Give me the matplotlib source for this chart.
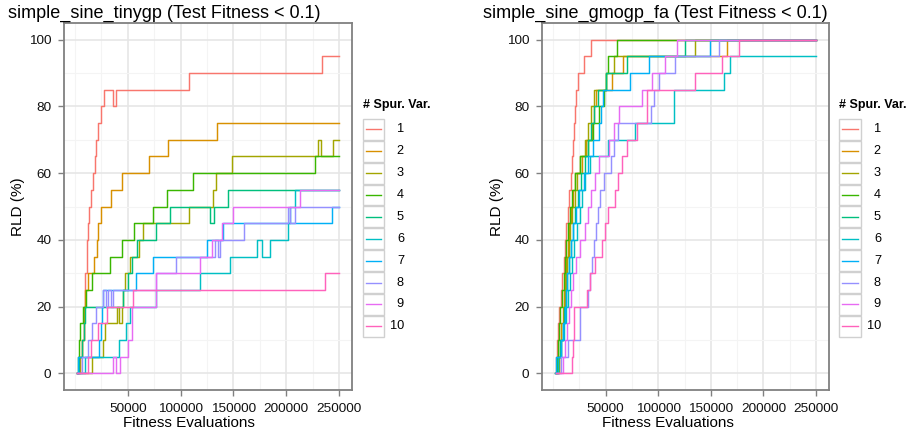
import matplotlib
matplotlib.use("Agg")
import matplotlib.pyplot as plt
from matplotlib.patches import Rectangle
from matplotlib.lines import Line2D

plt.rcParams['font.family'] = ['Liberation Sans', 'DejaVu Sans']

# ggplot hue palette, one colour per number of spurious variables
COLORS = ["#F8766D", "#D89000", "#A3A500", "#39B600", "#00BF7D",
          "#00BFC4", "#00B0F6", "#9590FF", "#E76BF3", "#FF62BC"]
series_labels = [str(i) for i in range(1, 11)]
x_ticks = [50000, 100000, 150000, 200000, 250000]
x_minor = [0, 25000, 75000, 125000, 175000, 225000]
y_ticks = [0, 20, 40, 60, 80, 100]
y_minor = [10, 30, 50, 70, 90]
end_eval = 250000

# ---- simple_sine_tinygp : evaluations where RLD changes / new RLD value ----
tiny_x1 = [2000, 5000, 7000, 8500, 9000, 9500, 11000, 12000, 13500, 15000, 17000, 18500,
           20000, 22000, 25000, 27500, 36000, 38500, 108000, 234000]
tiny_y1 = [0, 5, 10, 20, 25, 30, 40, 45, 50, 55, 60, 65, 70, 75, 80, 85, 80, 85, 90, 95]
tiny_x2 = [2000, 5000, 6500, 8000, 9500, 12000, 18000, 20300, 22000, 25000, 34000, 44600,
           70000, 88300, 134600]
tiny_y2 = [0, 5, 10, 20, 25, 30, 35, 40, 45, 50, 55, 60, 65, 70, 75]
tiny_x3 = [2000, 16500, 26000, 28000, 40000, 42000, 44000, 45500, 47000, 52000, 61000, 64000,
           108000, 131000, 133500, 148300, 230000, 233000, 244700]
tiny_y3 = [0, 5, 10, 15, 20, 15, 20, 25, 30, 35, 40, 45, 50, 55, 60, 65, 70, 65, 70]
tiny_x4 = [2000, 3000, 4000, 5000, 7500, 10000, 16000, 33000, 44000, 55700, 74000, 87200,
           111300, 227000]
tiny_y4 = [0, 5, 10, 15, 20, 25, 30, 35, 40, 45, 50, 55, 60, 65]
tiny_x5 = [2000, 4000, 7000, 8000, 9000, 45000, 50000, 53500, 59000, 77000, 90000, 128000,
           132000, 145000]
tiny_y5 = [0, 5, 10, 15, 20, 25, 30, 35, 40, 45, 50, 45, 50, 55]
tiny_x6 = [2000, 9000, 42000, 48000, 52000, 77000, 118000, 146600, 172000, 177000, 184700,
           201800, 204000, 208000]
tiny_y6 = [0, 5, 10, 15, 20, 25, 30, 35, 40, 35, 40, 45, 50, 55]
tiny_x7 = [2000, 3000, 23000, 25000, 25800, 26500, 58000, 73500, 125000, 140000, 243000]
tiny_y7 = [0, 5, 10, 15, 20, 25, 30, 35, 40, 45, 50]
tiny_x8 = [2000, 7000, 12000, 16000, 20000, 26000, 29000, 31500, 34000, 36000, 77000, 96000,
           133000, 135000, 137000, 160000, 202000, 203500, 208000]
tiny_y8 = [0, 5, 10, 15, 20, 25, 20, 25, 20, 25, 30, 35, 40, 35, 40, 45, 50, 45, 50]
tiny_x9 = [2000, 36000, 38500, 42500, 50000, 53500, 77000, 118000, 130000, 139000, 149700,
           213000]
tiny_y9 = [0, 5, 0, 5, 10, 20, 30, 35, 40, 45, 50, 55]
tiny_x10 = [2000, 12000, 15500, 22000, 30000, 55000, 236800]
tiny_y10 = [0, 5, 10, 15, 20, 25, 30]

# ---- simple_sine_gmogp_fa ----
gmo_x1 = [2000, 2500, 3300, 5000, 6000, 7100, 8500, 10000, 11000, 12500, 14000, 15500, 17000,
          18000, 19000, 20000, 21000, 22000, 24000, 29300, 36000]
gmo_y1 = [0, 5, 10, 15, 20, 25, 30, 35, 40, 45, 50, 55, 60, 65, 70, 75, 80, 85, 90, 95, 100]
gmo_x2 = [3000, 5500, 7000, 8000, 9000, 10000, 11000, 12500, 14000, 15500, 17000, 19000, 21000,
          28000, 31200, 36700, 39000, 41000, 55700, 66800, 165000]
gmo_y2 = [0, 5, 10, 15, 20, 25, 30, 35, 40, 45, 50, 55, 60, 65, 70, 75, 80, 85, 90, 95, 100]
gmo_x3 = [3500, 6000, 7500, 9000, 10000, 11000, 12000, 13500, 15000, 16500, 18500, 20500, 22500,
          26000, 30000, 33000, 36000, 39000, 50000, 58000, 135400]
gmo_y3 = [0, 5, 10, 15, 20, 25, 30, 35, 40, 45, 50, 55, 60, 65, 70, 75, 80, 85, 90, 95, 100]
gmo_x4 = [2000, 3500, 5000, 6000, 7000, 8500, 10000, 11000, 12500, 14000, 16000, 18000, 21000,
          25500, 33500, 38000, 44000, 48500, 50500, 52500, 60400]
gmo_y4 = [0, 5, 10, 15, 20, 25, 30, 35, 40, 45, 50, 55, 60, 65, 70, 75, 80, 85, 90, 95, 100]
gmo_x5 = [3000, 5000, 7000, 9000, 10500, 12000, 13500, 15000, 17000, 19000, 21000, 24000, 27000,
          30000, 33000, 36000, 39000, 43000, 50000, 70000, 125200]
gmo_y5 = [0, 5, 10, 15, 20, 25, 30, 35, 40, 45, 50, 55, 60, 65, 70, 75, 80, 85, 90, 95, 100]
gmo_x6 = [3000, 5000, 8000, 10000, 12500, 14000, 16000, 18000, 20000, 22500, 25500, 28000, 30000,
          35000, 52000, 78200, 114700, 162300, 168700]
gmo_y6 = [0, 5, 10, 15, 20, 25, 30, 35, 40, 45, 50, 55, 60, 65, 70, 75, 85, 90, 95]
gmo_x7 = [2000, 3000, 8000, 9500, 11000, 12500, 13500, 15000, 17000, 19000, 22000, 25000, 29000,
          33000, 38300, 44000, 46000, 47800, 73100, 91000, 149700]
gmo_y7 = [0, 5, 10, 15, 20, 25, 30, 35, 40, 45, 50, 55, 60, 65, 70, 75, 80, 85, 90, 95, 100]
gmo_x8 = [3000, 8000, 14500, 25500, 26000, 33500, 35000, 37000, 39000, 41000, 43000, 45000, 48000,
          55000, 58000, 62000, 93500, 95700, 100400, 116300, 157600]
gmo_y8 = [0, 5, 10, 15, 20, 25, 30, 35, 40, 45, 50, 55, 60, 65, 70, 75, 80, 85, 90, 95, 100]
gmo_x9 = [3500, 9000, 11000, 13000, 15000, 17000, 19000, 22000, 26000, 30000, 33000, 36000, 40000,
          44000, 53000, 57600, 63000, 84300, 94000, 106800, 117900]
gmo_y9 = [0, 5, 10, 15, 20, 25, 30, 35, 40, 45, 50, 55, 60, 65, 70, 75, 80, 85, 90, 95, 100]
gmo_x10 = [3000, 18500, 19000, 19500, 20000, 32000, 35000, 39800, 46200, 49000, 52500, 58500,
           62000, 66000, 70000, 79500, 89000, 89300, 135400, 160700, 176600]
gmo_y10 = [0, 5, 10, 15, 20, 25, 30, 35, 40, 45, 50, 55, 60, 65, 70, 75, 80, 85, 90, 95, 100]

tiny_runs = [(tiny_x1, tiny_y1), (tiny_x2, tiny_y2), (tiny_x3, tiny_y3), (tiny_x4, tiny_y4),
             (tiny_x5, tiny_y5), (tiny_x6, tiny_y6), (tiny_x7, tiny_y7), (tiny_x8, tiny_y8),
             (tiny_x9, tiny_y9), (tiny_x10, tiny_y10)]
gmo_runs = [(gmo_x1, gmo_y1), (gmo_x2, gmo_y2), (gmo_x3, gmo_y3), (gmo_x4, gmo_y4),
            (gmo_x5, gmo_y5), (gmo_x6, gmo_y6), (gmo_x7, gmo_y7), (gmo_x8, gmo_y8),
            (gmo_x9, gmo_y9), (gmo_x10, gmo_y10)]

W, H = 912, 434
fig = plt.figure(figsize=(W / 100, H / 100), dpi=100)
fig.patch.set_facecolor("white")


def px_box(left, top, right, bottom):
    return [left / W, 1 - bottom / H, (right - left) / W, (bottom - top) / H]


def draw_panel(ax, runs):
    for (xs, ys), c in zip(runs, COLORS):
        ax.step(xs + [end_eval], ys + [ys[-1]], where="post", color=c, lw=1.05, zorder=3)
    ax.set_xlim(-10500, 262400)
    ax.set_ylim(-5, 105)
    ax.set_xticks(x_ticks)
    ax.set_xticklabels([str(t) for t in x_ticks])
    ax.set_xticks(x_minor, minor=True)
    ax.set_yticks(y_ticks)
    ax.set_yticks(y_minor, minor=True)
    ax.grid(which="major", color="#E6E6E6", lw=1.2, zorder=0)
    ax.grid(which="minor", color="#F4F4F4", lw=0.8, zorder=0)
    ax.set_axisbelow(True)
    for s in ax.spines.values():
        s.set_color("#808080")
        s.set_linewidth(1.3)
    ax.tick_params(which="major", direction="out", length=4, width=1.0, color="#808080",
                   labelsize=9.7, labelcolor="#111111", pad=5)
    ax.tick_params(which="minor", length=0)


ax1 = fig.add_axes(px_box(64, 23, 352, 390))
ax2 = fig.add_axes(px_box(542, 23, 829, 390))
draw_panel(ax1, tiny_runs)
draw_panel(ax2, gmo_runs)

# overlay in pixel coordinates for titles, axis labels and legends
ov = fig.add_axes([0, 0, 1, 1], facecolor="none")
ov.set_xlim(0, W)
ov.set_ylim(H, 0)
ov.axis("off")

ov.text(8, 13, "simple_sine_tinygp (Test Fitness < 0.1)", fontsize=13, va="center", ha="left")
ov.text(483, 13, "simple_sine_gmogp_fa (Test Fitness < 0.1)", fontsize=13, va="center", ha="left")
for xc in (18, 497):
    ov.text(xc, 207, "RLD (%)", fontsize=11, rotation=90, va="center", ha="center")
for xc in (189, 668):
    ov.text(xc, 423, "Fitness Evaluations", fontsize=11, va="center", ha="center")


def draw_legend(kx, label_right):
    ov.text(kx, 105, "# Spur. Var.", fontsize=9, fontweight="bold", va="center", ha="left")
    top = 118.3
    kh = 21.9
    kw = 21.5
    for i, (lab, c) in enumerate(zip(series_labels, COLORS)):
        y0 = top + i * kh
        ov.add_patch(Rectangle((kx, y0 + 0.5), kw, kh - 1, facecolor="white",
                               edgecolor="#D0D0D0", lw=1.0))
        ov.add_line(Line2D([kx + 3, kx + kw - 3], [y0 + kh / 2, y0 + kh / 2], color=c, lw=1.0))
        ov.text(label_right, y0 + kh / 2, lab, fontsize=9.2, va="center", ha="right")


draw_legend(362.7, 404)
draw_legend(839.5, 881)

fig.savefig("out.png", dpi=100)
